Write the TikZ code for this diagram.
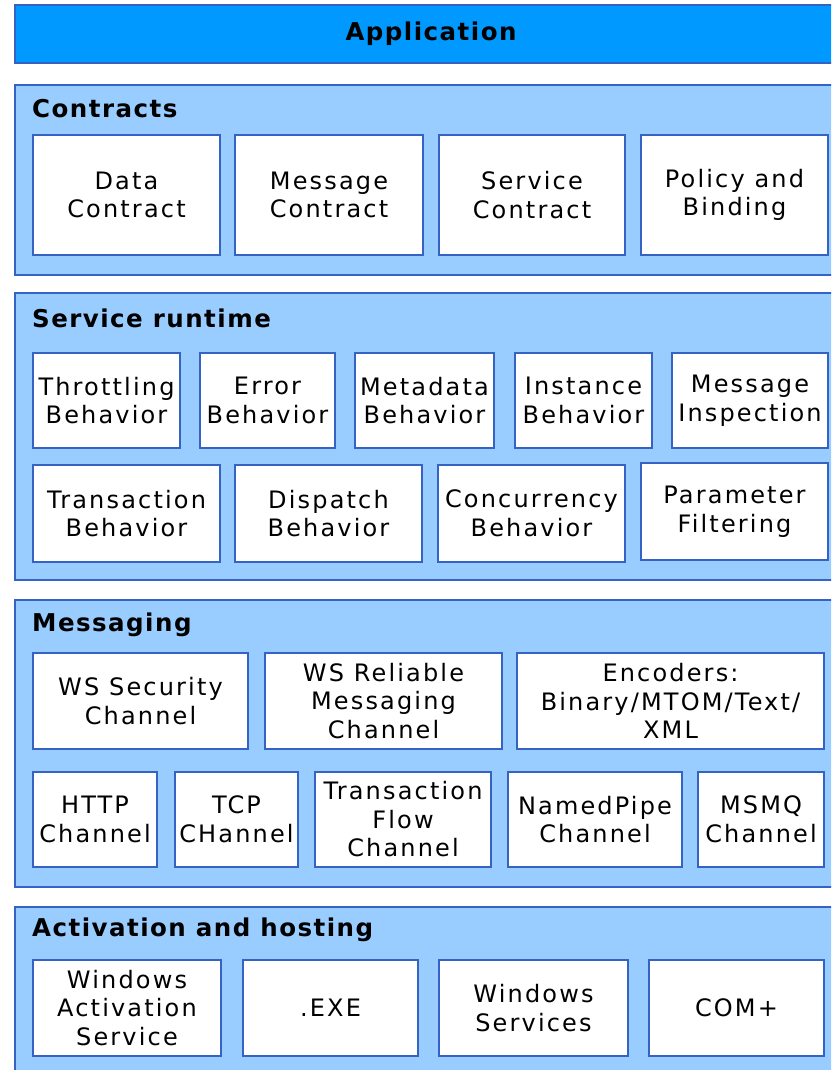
\documentclass[tikz,border=0pt]{standalone}
\usepackage{fontspec}
\setmainfont[LetterSpace=9]{DejaVu Sans}
\definecolor{appblue}{HTML}{0099FF}
\definecolor{layer}{HTML}{99CCFF}
\definecolor{edge}{HTML}{3563C4}
\newcommand\headfont{\fontsize{24.5}{28}\selectfont\bfseries\addfontfeature{LetterSpace=6}}
\begin{document}
\begin{tikzpicture}[x=1pt, y=-1pt, font=\fontsize{24}{28.5}\selectfont,
    panel/.style={draw=edge, fill=layer, line width=2pt},
    blk/.style={draw=edge, fill=white, line width=2.5pt},
    txt/.style={align=center, inner sep=0pt},
    ttl/.style={anchor=west, inner sep=0pt, font=\headfont}]
    \useasboundingbox (0,0) rectangle (831,1070);
    \clip (0,0) rectangle (831,1070);
    % top bar
    \draw[panel, fill=appblue] (15,5) rectangle (847,63)
        node[midway, txt, font=\headfont] (app) {Application};
    % contracts
    \draw[panel] (15,85) rectangle (847,275);
    \node[ttl] (contracts) at (32,109) {Contracts};
    \draw[blk] (33,135) rectangle (220,255) node[midway,txt] (datac) {Data\\Contract};
    \draw[blk] (235,135) rectangle (423,255) node[midway,txt] (msgc) {Message\\Contract};
    \draw[blk] (439,135) rectangle (625,255) node[midway,txt] (svcc) {Service\\Contract};
    \draw[blk] (641,135) rectangle (828,255) node[midway,txt] (policy) {Policy and\\Binding};
    % service runtime
    \draw[panel] (15,293) rectangle (847,580);
    \node[ttl] (runtime) at (32,318) {Service runtime};
    \draw[blk] (33,353) rectangle (180,448) node[midway,txt] (throttle) {Throttling\\Behavior};
    \draw[blk] (200,353) rectangle (335,448) node[midway,txt] (errb) {Error\\Behavior};
    \draw[blk] (355,353) rectangle (494,448) node[midway,txt] (metab) {Metadata\\Behavior};
    \draw[blk] (515,353) rectangle (652,448) node[midway,txt] (instb) {Instance\\Behavior};
    \draw[blk] (672,353) rectangle (828,448) node[midway,txt] (inspect) {Message\\Inspection};
    \draw[blk] (33,465) rectangle (220,562) node[midway,txt] (transb) {Transaction\\Behavior};
    \draw[blk] (235,465) rectangle (422,562) node[midway,txt] (dispb) {Dispatch\\Behavior};
    \draw[blk] (438,465) rectangle (625,562) node[midway,txt] (concb) {Concurrency\\Behavior};
    \draw[blk] (641,463) rectangle (828,560) node[midway,txt] (paramf) {Parameter\\Filtering};
    % messaging
    \draw[panel] (15,600) rectangle (847,887);
    \node[ttl] (messaging) at (32,625) {Messaging};
    \draw[blk] (33,653) rectangle (248,749) node[midway,txt] (wssec) {WS Security\\Channel};
    \draw[blk] (265,653) rectangle (502,749) node[midway,txt] (wsrm) {WS Reliable\\Messaging\\Channel};
    \draw[blk] (517,653) rectangle (824,749) node[midway,txt] (enc) {Encoders:\\Binary/MTOM/Text/\\XML};
    \draw[blk] (33,772) rectangle (157,867) node[midway,txt] (http) {HTTP\\Channel};
    \draw[blk] (175,772) rectangle (298,867) node[midway,txt] (tcp) {TCP\\CHannel};
    \draw[blk] (315,772) rectangle (491,867) node[midway,txt] (txflow) {Transaction\\Flow\\Channel};
    \draw[blk] (508,772) rectangle (682,867) node[midway,txt] (pipe) {NamedPipe\\Channel};
    \draw[blk] (698,772) rectangle (824,867) node[midway,txt] (msmq) {MSMQ\\Channel};
    % activation and hosting
    \draw[panel] (15,907) rectangle (847,1090);
    \node[ttl] (hosting) at (32,930) {Activation and hosting};
    \draw[blk] (33,960) rectangle (221,1056) node[midway,txt] (was) {Windows\\Activation\\Service};
    \draw[blk] (243,960) rectangle (418,1056) node[midway,txt] (exe) {.EXE};
    \draw[blk] (439,960) rectangle (628,1056) node[midway,txt] (winsvc) {Windows\\Services};
    \draw[blk] (649,960) rectangle (824,1056) node[midway,txt] (complus) {COM+};
\end{tikzpicture}
\end{document}
